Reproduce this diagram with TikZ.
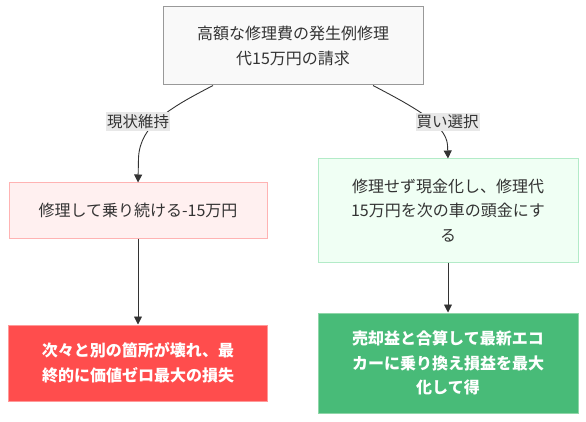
\documentclass[tikz,border=0pt]{standalone}
\usepackage{fontspec}
\setmainfont{Noto Sans CJK JP}
\usetikzlibrary{arrows.meta}
\definecolor{txt}{HTML}{333333}
\definecolor{topfill}{HTML}{F9F9F9}
\definecolor{topdraw}{HTML}{999999}
\definecolor{pinkfill}{HTML}{FFF0F0}
\definecolor{pinkdraw}{HTML}{FFB3B3}
\definecolor{mintfill}{HTML}{F0FFF4}
\definecolor{mintdraw}{HTML}{B3EBC8}
\definecolor{redfill}{HTML}{FF4D4D}
\definecolor{reddraw}{HTML}{FF9999}
\definecolor{greenfill}{HTML}{48BB78}
\definecolor{greendraw}{HTML}{8FD6A8}
\definecolor{lblfill}{HTML}{E8E8E8}
\definecolor{edge}{HTML}{333333}
\tikzset{
  box/.style={draw, line width=1pt, text=txt, align=center, inner sep=0pt,
    font=\fontsize{16}{24.5}\selectfont},
  topbox/.style={box, fill=topfill, draw=topdraw, minimum width=260pt, minimum height=78pt},
  pinkbox/.style={box, fill=pinkfill, draw=pinkdraw, minimum width=258pt, minimum height=55pt},
  mintbox/.style={box, fill=mintfill, draw=mintdraw, minimum width=260pt, minimum height=103pt},
  redbox/.style={box, fill=redfill, draw=reddraw, text=white, minimum width=259pt, minimum height=76pt, font=\fontsize{16}{24.5}\selectfont\bfseries},
  greenbox/.style={box, fill=greenfill, draw=greendraw, text=white, minimum width=260pt, minimum height=100pt, font=\fontsize{16}{24.5}\selectfont\bfseries},
  lbl/.style={fill=lblfill, text=txt, inner xsep=1pt, inner ysep=2pt, font=\fontsize{15.5}{18}\selectfont},
  conn/.style={draw=edge, line width=0.9pt},
  arr/.style={conn, -{Triangle[length=8pt,width=8pt]}},
}
\begin{document}
\begin{tikzpicture}[x=1pt,y=-1pt]
\useasboundingbox (0,0) rectangle (586,422);
\node[topbox] (top) at (293,46) {高額な修理費の発生例修理\\代15万円の請求};
\node[pinkbox] (keep) at (138,210.5) {修理して乗り続ける-15万円};
\node[mintbox] (sell) at (448,210.5) {修理せず現金化し、修理代\\15万円を次の車の頭金にす\\る};
\node[redbox] (loss) at (138,363) {次々と別の箇所が壊れ、最\\終的に価値ゼロ最大の損失};
\node[greenbox] (gain) at (448,363) {売却益と合算して最新エコ\\カーに乗り換え損益を最大\\化して得};
\coordinate (tl) at (213,85.5);
\coordinate (tr) at (373,85.5);
\draw[arr] (tl) .. controls (172,107) and (140,124) .. (138.5,158) -- (keep.north);
\draw[arr] (tr) .. controls (412,106) and (446,124) .. (447.5,145) -- (sell.north);
\node[lbl] (l1) at (138,121.5) {現状維持};
\node[lbl] (l2) at (447.5,122) {買い選択};
\draw[arr] (keep.south) -- (loss.north);
\draw[arr] (sell.south) -- (gain.north);
\end{tikzpicture}
\end{document}
